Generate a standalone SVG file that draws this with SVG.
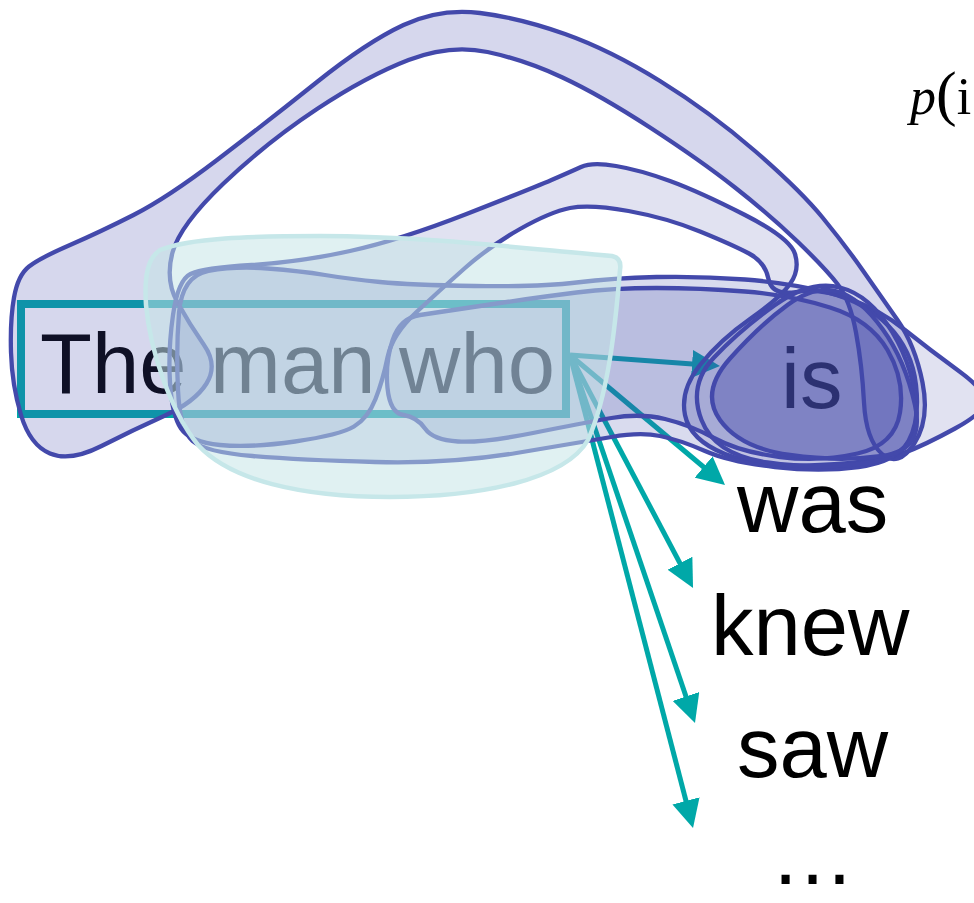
<svg xmlns="http://www.w3.org/2000/svg" width="974" height="903" viewBox="0 0 974 903">
<defs>
<marker id="ah" viewBox="0 0 10 10" markerWidth="28" markerHeight="28" markerUnits="userSpaceOnUse" refX="5" refY="5" orient="auto"><path d="M0,0 L10,5 L0,10 Z" fill="#00a8a8"/></marker>
</defs>
<style>
.word{font-family:"Liberation Sans",Arial,sans-serif;font-size:85px;fill:#000}
.blob{fill:#4349ab;stroke:#4349ab;stroke-width:4.3;stroke-linejoin:round}
.arrow{stroke:#00a8a8;stroke-width:5;fill:none;marker-end:url(#ah)}
</style>
<rect width="974" height="903" fill="#fff"/>
<g id="node-context">
<rect x="21" y="304" width="545" height="110" fill="none" stroke="#00a8a8" stroke-width="8"/>
<text class="word" x="40" y="393">The man who</text>
</g>
<g id="node-is"><text class="word" x="781" y="408">is</text></g>
<g id="connectors">
<line class="arrow" x1="570" y1="355" x2="706" y2="365"/>
<line class="arrow" x1="570" y1="355" x2="714.3" y2="476"/>
<line class="arrow" x1="570" y1="355" x2="686.5" y2="575.6"/>
<line class="arrow" x1="570" y1="355" x2="690.5" y2="709.7"/>
<line class="arrow" x1="570" y1="355" x2="689.5" y2="814.4"/>
</g>
<g id="context-blobs">
<path class="blob" fill-opacity="0.22" d="M 29,266.5 Q 40,258 70,245 Q 100,232 133.5,215 Q 167,198 217,160 Q 267,122 317,82 Q 367,42 403.5,25 Q 440,8 480,13 Q 520,18 565,34 Q 610,50 660,81 Q 710,112 755,151 Q 800,190 822.5,217.5 Q 845,245 862.5,270 Q 880,295 897.5,320 Q 915,345 922.5,382.5 Q 930,420 914,444 Q 898,468 882,454 Q 866,440 864,402.5 Q 862,365 856,332.5 Q 850,300 837.5,284 Q 825,268 797.5,241.5 Q 770,215 735,187.5 Q 700,160 650,127.5 Q 600,95 562.5,77.5 Q 525,60 487.5,52 Q 450,44 408.5,60 Q 367,76 317,109 Q 267,142 223.5,183.5 Q 180,225 172.5,252.5 Q 165,280 177.5,302.5 Q 190,325 204,345 Q 218,365 206.5,383.5 Q 195,402 164,416 Q 133,430 101.5,446 Q 70,462 50,453.5 Q 30,445 21,415 Q 12,385 11,352.5 Q 10,320 14,297.5 Q 18,275 29,266.5 Z"/>
<path class="blob" fill-opacity="0.16" d="M 173,315 Q 178,280 190.5,274 Q 203,268 251.5,265 Q 300,262 350,251 Q 400,240 466.5,214 Q 533,188 551.5,180 Q 570,172 581,167 Q 592,162 616,166 Q 640,170 670,181 Q 700,192 745,215 Q 790,238 795,254 Q 800,270 790,284 Q 780,298 750,319 Q 720,340 700,365 Q 680,390 685,415 Q 690,440 725,454 Q 760,468 820,465 Q 880,462 902.5,453.5 Q 925,445 955,428.5 Q 985,412 985,401 Q 985,390 957.5,370 Q 930,350 905,330 Q 880,310 850,299 Q 820,288 796,292 Q 772,296 768.5,279 Q 765,262 749,253.5 Q 733,245 700,231.5 Q 667,218 628.5,211 Q 590,204 570,208 Q 550,212 520,229 Q 490,246 465,268 Q 440,290 416,312.5 Q 392,335 387.5,357.5 Q 383,380 375.5,399 Q 368,418 354,426.5 Q 340,435 295,441.5 Q 250,448 220,445 Q 190,442 181,428.5 Q 172,415 170,382.5 Q 168,350 173,315 Z"/>
<path class="blob" fill-opacity="0.2" d="M 179,313 Q 182,276 208.5,271 Q 235,266 267.5,268.5 Q 300,271 325,275 Q 350,279 380,282 Q 410,285 475,286 Q 540,287 576.5,282.5 Q 613,278 656.5,277 Q 700,276 745,279.5 Q 790,283 827.5,292.5 Q 865,302 888.5,326 Q 912,350 916,385 Q 920,420 908.5,441 Q 897,462 858.5,467 Q 820,472 775,467 Q 730,462 705,451 Q 680,440 660,436 Q 640,432 611.5,437 Q 583,442 516.5,453 Q 450,464 375,462 Q 300,460 252.5,456 Q 205,452 192.5,441 Q 180,430 178,390 Q 176,350 179,313 Z"/>
<path class="blob" fill-opacity="0.2" d="M 392.5,340.5 Q 400,318 420,315 Q 440,312 490,304.5 Q 540,297 576.5,292.5 Q 613,288 656.5,288 Q 700,288 745,291.5 Q 790,295 830,307.5 Q 870,320 887.5,350 Q 905,380 900,412.5 Q 895,445 857.5,453.5 Q 820,462 780,457 Q 740,452 715,438.5 Q 690,425 665,419 Q 640,413 611.5,418 Q 583,423 533,433 Q 483,443 458,441.5 Q 433,440 425,428.5 Q 417,417 403.5,415 Q 390,413 387.5,388 Q 385,363 392.5,340.5 Z"/>
<path class="blob" fill-opacity="0" d="M 701.5,420 Q 688,385 714,357.5 Q 740,330 775,305 Q 810,280 840,287.5 Q 870,295 892.5,332.5 Q 915,370 916.5,412.5 Q 918,455 869,462.5 Q 820,470 767.5,462.5 Q 715,455 701.5,420 Z"/>
<path class="blob" fill-opacity="0.4" d="M 720,420 Q 700,392 730,358.5 Q 760,325 787.5,305 Q 815,285 837.5,291.5 Q 860,298 882.5,329 Q 905,360 915,405 Q 925,450 882.5,456 Q 840,462 790,455 Q 740,448 720,420 Z"/>
</g>
<g id="focus-blob">
<path d="M 160,250 C 190,238 250,236 320,236 C 420,236 520,248 612,256 Q 622,258 620,270 C 615,330 608,395 588,440 C 565,480 480,497 390,497 C 300,497 230,480 198,445 C 170,410 150,350 146,305 C 144,275 148,258 160,250 Z" fill="rgb(195,229,230)" fill-opacity="0.52" stroke="#c6e7e9" stroke-width="4.5"/>
</g>
<g id="node-was"><text class="word" x="737" y="532">was</text></g>
<g id="node-knew"><text class="word" x="711" y="655">knew</text></g>
<g id="node-saw"><text class="word" x="737" y="777">saw</text></g>
<g id="node-more"><text class="word" x="770" y="884">…</text></g>
<g id="formula"><text x="910" y="114" font-family="'Liberation Serif','Times New Roman',serif" font-size="52" fill="#000"><tspan font-style="italic">p</tspan><tspan font-size="62">(</tspan>i</text></g>
</svg>
